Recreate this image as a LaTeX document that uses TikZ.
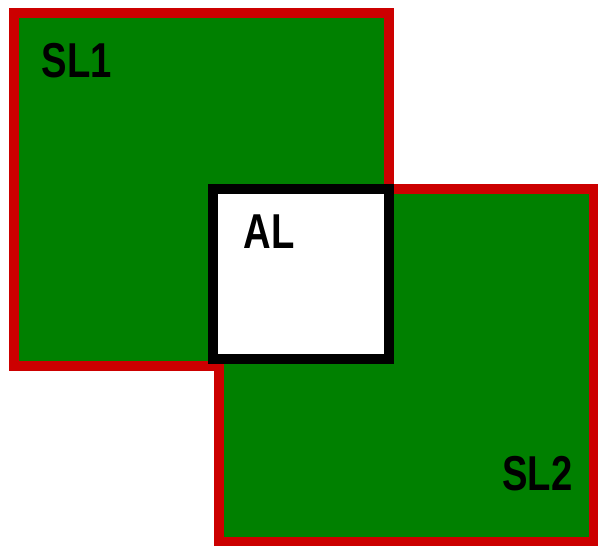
\documentclass[tikz,border=0pt]{standalone}
\usepackage{fontspec}
\setmainfont{Liberation Sans}
\definecolor{slgreen}{RGB}{0,128,0}
\definecolor{slred}{RGB}{204,0,0}
\begin{document}
\begin{tikzpicture}[x=1pt,y=-1pt,
  slbox/.style={fill=slgreen,draw=slred,line width=10pt},
  albox/.style={fill=white,draw=black,line width=10pt},
  lbl/.style={font=\bfseries\fontsize{49}{49}\selectfont,inner sep=0pt,anchor=base,xscale=0.78}]
\useasboundingbox (0,0) rectangle (598,546);
\path[fill=white] (0,0) rectangle (598,546);
\begin{scope}
\clip (0,0) rectangle (598,546);
\path[slbox] (14,13) rectangle (389,366);
\path[slbox] (219,189) rectangle (594,542);
\path[albox] (213,189) rectangle (389,359);
\end{scope}
\node[lbl] (sl1) at (77,77) {SL1};
\node[lbl] (al) at (269,248) {AL};
\node[lbl] (sl2) at (537.5,490) {SL2};
\end{tikzpicture}
\end{document}
